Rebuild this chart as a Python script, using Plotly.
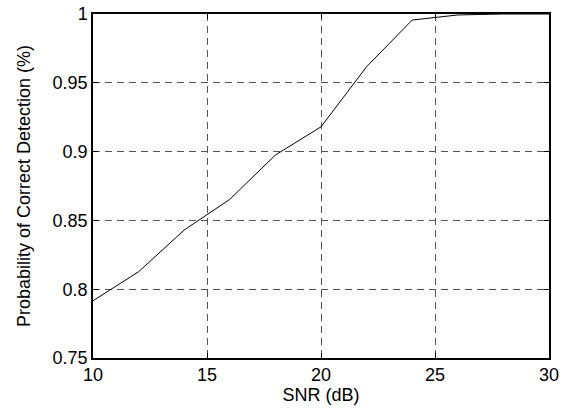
import plotly.graph_objects as go

snr_db = [10, 12, 14, 16, 18, 20, 22, 24, 26, 28, 30]
prob_detect = [0.7916, 0.8127, 0.843, 0.8653, 0.8975, 0.918, 0.9617, 0.9956, 0.9993, 1.0, 1.0]

x_ticks = [10, 15, 20, 25, 30]
y_ticks = [0.75, 0.8, 0.85, 0.9, 0.95, 1]
y_tick_text = ["0.75", "0.8", "0.85", "0.9", "0.95", "1"]

FONT = "Liberation Sans, Arial, sans-serif"

fig = go.Figure()
fig.add_trace(go.Scatter(x=snr_db, y=prob_detect, mode="lines",
                         line=dict(color="black", width=1)))

axis_common = dict(
    showline=True, linecolor="black", linewidth=1.5, mirror="ticks",
    ticks="inside", ticklen=5, tickcolor="black",
    showgrid=True, gridcolor="#555555", gridwidth=1, griddash="7px,5px",
    zeroline=False, ticklabeloverflow="allow", automargin=False,
    tickfont=dict(family=FONT, size=18, color="black"),
)

fig.update_xaxes(range=[10, 30], tickvals=x_ticks,
                 title=dict(text="SNR (dB)", standoff=4,
                            font=dict(family=FONT, size=18, color="black")),
                 **axis_common)
fig.update_yaxes(range=[0.75, 1], tickvals=y_ticks, ticktext=y_tick_text,
                 title=dict(text="Probability of Correct Detection (%)", standoff=17,
                            font=dict(family=FONT, size=18, color="black")),
                 **axis_common)

fig.update_layout(
    width=568, height=417,
    margin=dict(l=93, r=19, t=14, b=59),
    paper_bgcolor="white", plot_bgcolor="white",
    showlegend=False,
)

fig.write_html("out.html", config={"displayModeBar": False},
               post_script="document.body.style.margin='0';document.body.style.overflow='hidden';")
